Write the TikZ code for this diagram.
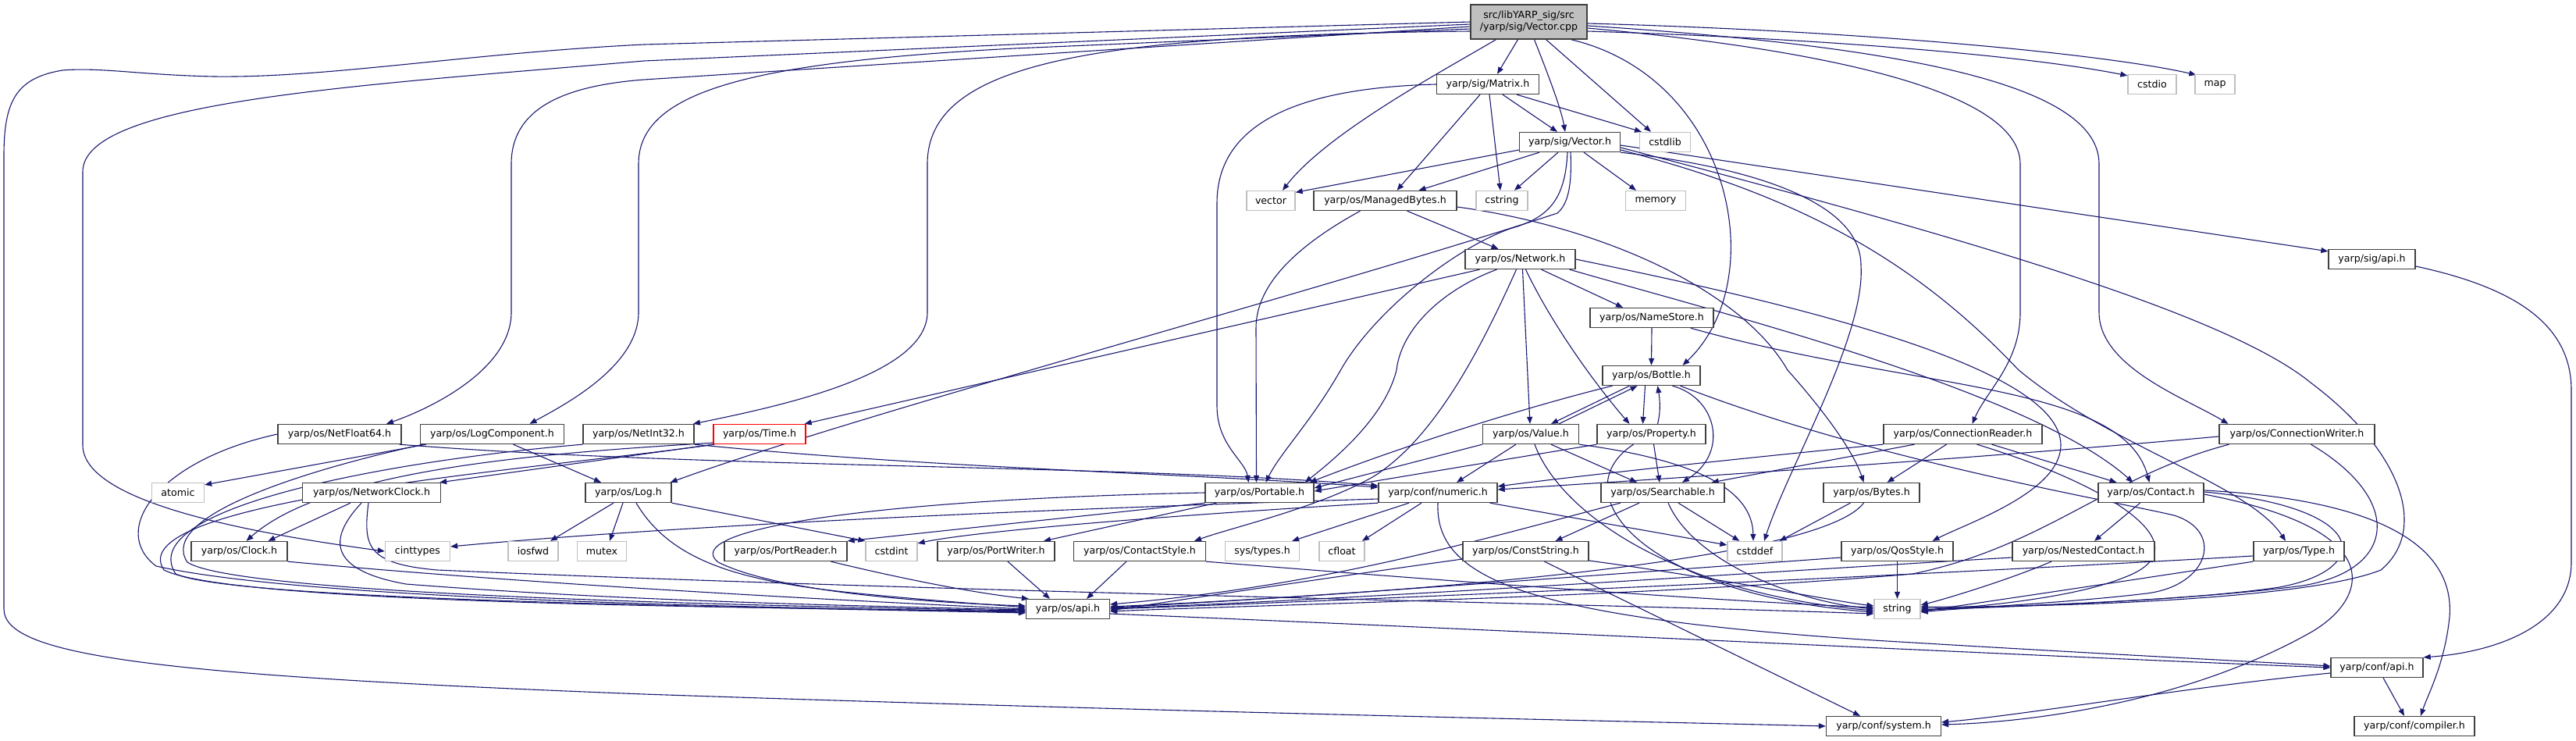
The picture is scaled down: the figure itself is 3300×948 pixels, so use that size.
\documentclass[tikz,border=0pt]{standalone}
\usepackage{fontspec}
\setmainfont{DejaVu Sans}
\usetikzlibrary{arrows.meta,calc}
\definecolor{mblue}{HTML}{191970}
\definecolor{gbox}{HTML}{BFBFBF}
\definecolor{dbox}{HTML}{404040}
\definecolor{rbox}{HTML}{FF0000}
\pgfdeclarelayer{bg}
\pgfsetlayers{bg,main}
\begin{document}
\begin{tikzpicture}[x=1pt,y=-1pt,
  nd/.style={draw=dbox,line width=1.3pt,fill=white,minimum height=25pt,inner xsep=1pt,inner ysep=0pt,font=\fontsize{12.6}{15}\selectfont},
  sys/.style={nd,draw=gbox},
  e/.style={draw=mblue,line width=1.1pt,-{Triangle[length=9pt,width=7pt]}}]
\useasboundingbox (0,0) rectangle (3300,948);
% ---------------- nodes ----------------
\node[nd,fill=gbox,minimum width=149pt,minimum height=44pt,align=center] (root) at (1958.5,28) {src/libYARP\_sig/src\\/yarp/sig/Vector.cpp};
\node[nd,minimum width=131pt] (matrix) at (1906,108) {yarp/sig/Matrix.h};
\node[sys,minimum width=62pt] (cstdio) at (2757,108) {cstdio};
\node[sys,minimum width=51pt] (map) at (2837.5,108) {map};
\node[nd,minimum width=129pt] (vech) at (2011,182) {yarp/sig/Vector.h};
\node[sys,minimum width=65pt] (cstdlib) at (2133,182) {cstdlib};
\node[sys,minimum width=62pt] (vector) at (1628,257) {vector};
\node[nd,minimum width=183pt] (mbytes) at (1774.5,257) {yarp/os/ManagedBytes.h};
\node[sys,minimum width=66pt] (cstring) at (1924,257) {cstring};
\node[sys,minimum width=77pt] (memory) at (2121,257) {memory};
\node[nd,minimum width=141pt] (network) at (1947.5,332) {yarp/os/Network.h};
\node[nd,minimum width=111pt] (sigapi) at (3038.5,332) {yarp/sig/api.h};
\node[nd,minimum width=158pt] (namestore) at (2116,407) {yarp/os/NameStore.h};
\node[nd,minimum width=125pt] (bottle) at (2115.5,481) {yarp/os/Bottle.h};
\node[nd,minimum width=158pt] (netfloat) at (435,556) {yarp/os/NetFloat64.h};
\node[nd,minimum width=184pt] (logcomp) at (630.5,556) {yarp/os/LogComponent.h};
\node[nd,minimum width=142pt] (netint) at (818,556) {yarp/os/NetInt32.h};
\node[nd,draw=rbox,minimum width=118pt] (time) at (973,556) {yarp/os/Time.h};
\node[nd,minimum width=123pt] (value) at (1961,556) {yarp/os/Value.h};
\node[nd,minimum width=139pt] (property) at (2115.5,556) {yarp/os/Property.h};
\node[nd,minimum width=203pt] (connreader) at (2514.5,556) {yarp/os/ConnectionReader.h};
\node[nd,minimum width=199pt] (connwriter) at (2942.5,556) {yarp/os/ConnectionWriter.h};
\node[sys,minimum width=67pt] (atomic) at (228,631) {atomic};
\node[nd,minimum width=177pt] (netclock) at (476,631) {yarp/os/NetworkClock.h};
\node[nd,minimum width=110pt] (log) at (805,631) {yarp/os/Log.h};
\node[nd,minimum width=139pt] (portable) at (1613.5,631) {yarp/os/Portable.h};
\node[nd,minimum width=152pt] (numeric) at (1842,631) {yarp/conf/numeric.h};
\node[nd,minimum width=158pt] (searchable) at (2130,631) {yarp/os/Searchable.h};
\node[nd,minimum width=123pt] (bytes) at (2397.5,631) {yarp/os/Bytes.h};
\node[nd,minimum width=135pt] (contact) at (2755.5,631) {yarp/os/Contact.h};
\node[nd,minimum width=123pt] (clock) at (306.5,706) {yarp/os/Clock.h};
\node[sys,minimum width=83pt] (cinttypes) at (535,706) {cinttypes};
\node[sys,minimum width=64pt] (iosfwd) at (683,706) {iosfwd};
\node[sys,minimum width=63pt] (mutex) at (771,706) {mutex};
\node[nd,minimum width=157pt] (portreader) at (1006.5,706) {yarp/os/PortReader.h};
\node[sys,minimum width=66pt] (cstdint) at (1142,706) {cstdint};
\node[nd,minimum width=150pt] (portwriter) at (1276,706) {yarp/os/PortWriter.h};
\node[nd,minimum width=169pt] (contactstyle) at (1460,706) {yarp/os/ContactStyle.h};
\node[sys,minimum width=95pt] (systypes) at (1617,706) {sys/types.h};
\node[sys,minimum width=58pt] (cfloat) at (1719,706) {cfloat};
\node[nd,minimum width=161pt] (conststring) at (1954.5,706) {yarp/os/ConstString.h};
\node[sys,minimum width=70pt] (cstddef) at (2248,706) {cstddef};
\node[nd,minimum width=143pt] (qosstyle) at (2430.5,706) {yarp/os/QosStyle.h};
\node[nd,minimum width=182pt] (nested) at (2669,706) {yarp/os/NestedContact.h};
\node[nd,minimum width=116pt] (type) at (2945,706) {yarp/os/Type.h};
\node[nd,minimum width=107pt] (osapi) at (1368,780) {yarp/os/api.h};
\node[sys,minimum width=59pt] (string) at (2430.5,780) {string};
\node[nd,minimum width=118pt] (confapi) at (3045,855) {yarp/conf/api.h};
\node[nd,minimum width=147pt] (system) at (2413,930) {yarp/conf/system.h};
\node[nd,minimum width=154pt] (compiler) at (3093,930) {yarp/conf/compiler.h};
% ---------------- edges ----------------
\begin{pgfonlayer}{bg}
% root
\draw[e] ($(root.south)+(-14,0)$) -- ($(matrix.north)+(12,0)$);
\draw[e] ($(root.south)+(7,0)$) .. controls (1985,100) and (2000,140) .. ($(vech.north)+(-6,0)$);
\draw[e] ($(root.south)+(22,0)$) -- ($(cstdlib.north)+(-18,0)$);
\draw[e] ($(root.south)+(-42,0)$) .. controls (1850,90) and (1700,170) .. ($(vector.north)+(15,0)$);
\draw[e] ($(root.south)+(54,0)$) .. controls (2220,100) and (2270,360) .. ($(bottle.north)+(40,0)$);
\draw[e] ($(root.east)+(0,12)$) .. controls (2350,50) and (2600,72) .. ($(cstdio.north west)+(0,2)$);
\draw[e] ($(root.east)+(0,2)$) .. controls (2400,40) and (2700,70) .. ($(map.north west)+(2,1)$);
\draw[e] ($(root.east)+(0,8)$) .. controls (2300,60) and (2588,110) .. (2588,210) -- (2588,400) .. controls (2588,465) and (2545,500) .. ($(connreader.north)+(12,0)$);
\draw[e] ($(root.east)+(0,5)$) .. controls (2450,60) and (2689,110) .. (2689,210) -- (2689,400) .. controls (2689,470) and (2800,510) .. ($(connwriter.north)+(-88,0)$);
\draw[e] ($(root.west)+(0,0)$) -- (825,57) .. controls (600,68) and (420,100) .. (274,98) .. controls (180,96) and (130,86) .. (80,90) .. controls (20,100) and (5,130) .. (5,200) -- (5,780) .. controls (5,840) and (200,865) .. (825,889) .. controls (1500,912) and (2100,924) .. (system.west);
\draw[e] ($(root.west)+(0,3)$) -- (825,78) .. controls (450,110) and (106,130) .. (106,220) -- (106,570) .. controls (106,640) and (300,680) .. (cinttypes.west);
\draw[e] ($(root.west)+(0,6)$) -- (825,102) .. controls (720,110) and (655,140) .. (655,210) -- (655,400) .. controls (655,470) and (560,520) .. ($(netfloat.north)+(60,0)$);
\draw[e] ($(root.west)+(0,9)$) -- (1300,62) .. controls (950,80) and (818,120) .. (818,210) -- (818,400) .. controls (818,470) and (720,520) .. ($(logcomp.north)+(48,0)$);
\draw[e] ($(root.west)+(0,12)$) .. controls (1400,45) and (1188,80) .. (1188,210) -- (1188,400) .. controls (1188,480) and (1000,520) .. ($(netint.north)+(70,0)$);
% Matrix
\draw[e] ($(matrix.south)+(19,0)$) -- ($(vech.north)+(-16,0)$);
\draw[e] ($(matrix.south)+(37,0)$) -- ($(cstdlib.north)+(-30,0)$);
\draw[e] ($(matrix.south)+(2,0)$) -- ($(cstring.north)+(-2,0)$);
\draw[e] ($(matrix.south)+(-10,0)$) -- ($(mbytes.north)+(15,0)$);
\draw[e] (matrix.west) .. controls (1680,112) and (1559,150) .. (1559,260) -- (1559,520) .. controls (1559,570) and (1595,590) .. ($(portable.north)+(-14,0)$);
% Vector.h
\draw[e] ($(vech.west)+(0,10)$) -- ($(vector.north east)+(0,2.5)$);
\draw[e] ($(vech.south)+(-39,0)$) -- ($(mbytes.north)+(43,0)$);
\draw[e] ($(vech.south)+(-15,0)$) -- ($(cstring.north)+(16,0)$);
\draw[e] ($(vech.south)+(18,0)$) -- ($(memory.north)+(-25,0)$);
\draw[e] ($(vech.south)+(-3,0)$) .. controls (2005,260) and (1980,280) .. (1934,293) .. controls (1860,320) and (1760,400) .. (1718,473) .. controls (1680,540) and (1640,580) .. ($(portable.north)+(8,0)$);
\draw[e] ($(vech.south)+(1,0)$) .. controls (2014,240) and (2008,262) .. (1995,273) .. controls (1700,370) and (1100,530) .. ($(log.north east)+(-2,0)$);
\draw[e] (vech.south east) .. controls (2250,215) and (2384,260) .. (2384,340) .. controls (2390,430) and (2290,600) .. ($(cstddef.north)+(12,0)$);
\draw[e] ($(vech.east)+(0,4)$) -- ($(sigapi.north west)+(0,3)$);
\draw[e] ($(vech.east)+(0,7)$) .. controls (2500,300) and (2850,400) .. (2960,490) .. controls (3080,580) and (3110,680) .. (3050,730) .. controls (2950,770) and (2600,778) .. ($(string.east)+(0,-3)$);
\draw[e] ($(vech.east)+(0,10)$) .. controls (2300,250) and (2450,330) .. (2585,473) .. controls (2700,570) and (2880,620) .. ($(type.north)+(-17,0)$);
% ManagedBytes
\draw[e] ($(mbytes.south)+(28,0)$) -- ($(network.north)+(-28,0)$);
\draw[e] ($(mbytes.south)+(-32,0)$) .. controls (1670,310) and (1609,360) .. (1609,420) -- ($(portable.north)+(-4,0)$);
\draw[e] ($(mbytes.east)+(0,8)$) .. controls (2050,290) and (2230,370) .. (2290,474) .. controls (2340,530) and (2375,580) .. ($(bytes.north)+(-10,0)$);
% Network
\draw[e] ($(network.south)+(27,0)$) -- ($(namestore.north)+(-37,0)$);
\draw[e] ($(network.south)+(-52,0)$) -- ($(time.north east)+(-2,0)$);
\draw[e] ($(network.south)+(-30,0)$) .. controls (1850,370) and (1795,420) .. (1789,474) .. controls (1775,530) and (1720,580) .. ($(portable.north east)+(-12,0)$);
\draw[e] ($(network.south)+(-5,0)$) .. controls (1900,440) and (1840,560) .. (1760,610) .. controls (1690,650) and (1580,675) .. ($(contactstyle.north)+(70,0)$);
\draw[e] ($(network.south)+(3,0)$) -- ($(value.north)+(-1,0)$);
\draw[e] ($(network.south)+(7,0)$) .. controls (1990,420) and (2050,500) .. ($(property.north)+(-28,0)$);
\draw[e] ($(network.south east)+(-8,0)$) .. controls (2200,400) and (2600,500) .. ($(contact.north)+(-23,0)$);
\draw[e] (network.east) .. controls (2300,390) and (2640,470) .. (2640,570) .. controls (2640,630) and (2520,670) .. ($(qosstyle.north)+(45,0)$);
% NameStore
\draw[e] (namestore.south) -- (bottle.north);
\draw[e] ($(namestore.south east)+(-30,0)$) .. controls (2450,500) and (2720,490) .. ($(contact.north)+(-2,0)$);
% Bottle
\draw[e] ($(bottle.south)+(-28,0)$) -- ($(value.north)+(26,0)$);
\draw[e] ($(value.north)+(36,0)$) -- ($(bottle.south)+(-18,0)$);
\draw[e] ($(bottle.south)+(-8,0)$) -- ($(property.north)+(-11,0)$);
\draw[e] ($(property.north)+(8,0)$) .. controls (2128,525) and (2126,510) .. ($(bottle.south)+(8,0)$);
\draw[e] ($(bottle.south)+(27,0)$) .. controls (2200,510) and (2215,580) .. ($(searchable.north)+(25,0)$);
\draw[e] ($(bottle.south)+(-50,0)$) .. controls (1960,520) and (1800,570) .. ($(portable.north east)+(-6,0)$);
\draw[e] ($(bottle.south)+(37,0)$) .. controls (2400,590) and (2700,640) .. (2785,660) .. controls (2850,680) and (2830,750) .. (2750,760) .. controls (2650,772) and (2520,778) .. ($(string.east)+(0,4)$);
% Value
\draw[e] ($(value.south)+(-19,0)$) -- ($(numeric.north)+(24,0)$);
\draw[e] ($(value.south)+(26,0)$) -- ($(searchable.north)+(-33,0)$);
\draw[e] (value.south west) -- ($(portable.east)+(0,-6)$);
\draw[e] (value.south east) .. controls (2180,590) and (2245,630) .. ($(cstddef.north)+(-2,0)$);
\draw[e] ($(value.south)+(5,0)$) .. controls (2000,660) and (2150,760) .. ($(string.west)+(0,2)$);
% Property
\draw[e] ($(property.south)+(3,0)$) -- ($(searchable.north)+(-4,0)$);
\draw[e] (property.south west) -- ($(portable.east)+(0,-2)$);
\draw[e] ($(property.south)+(-23,0)$) .. controls (2000,630) and (2100,760) .. ($(string.west)+(0,4)$);
% Searchable
\draw[e] ($(searchable.south)+(20,0)$) -- ($(cstddef.north west)+(16,0)$);
\draw[e] ($(searchable.south)+(7,0)$) .. controls (2170,720) and (2300,770) .. (string.west);
\draw[e] ($(searchable.south)+(-30,0)$) -- ($(conststring.north)+(38,0)$);
\draw[e] ($(searchable.south)+(-54,0)$) .. controls (1900,690) and (1700,750) .. ($(osapi.east)+(0,-6)$);
% Bytes
\draw[e] ($(bytes.south)+(-27,0)$) -- ($(cstddef.north east)+(-4,0)$);
\draw[e] ($(bytes.south)+(-10,0)$) .. controls (2330,720) and (1800,760) .. ($(osapi.east)+(0,-3)$);
% ConnectionReader
\draw[e] (connreader.south west) .. controls (2200,590) and (2000,612) .. ($(numeric.east)+(0,-8)$);
\draw[e] ($(connreader.south)+(-62,0)$) -- ($(searchable.north east)+(-17,0)$);
\draw[e] ($(connreader.south)+(-21,0)$) -- ($(bytes.north)+(20,0)$);
\draw[e] ($(connreader.south)+(37,0)$) -- ($(contact.north)+(-44,0)$);
\draw[e] ($(connreader.south)+(18,0)$) .. controls (2700,620) and (2830,700) .. (2720,740) .. controls (2650,768) and (2520,778) .. ($(string.east)+(0,2)$);
% ConnectionWriter
\draw[e] ($(connwriter.west)+(0,3)$) .. controls (2500,590) and (2100,615) .. ($(numeric.east)+(0,-4)$);
\draw[e] ($(connwriter.south)+(-87,0)$) .. controls (2700,610) and (2620,700) .. (2450,735) .. controls (2100,765) and (1600,775) .. ($(osapi.east)+(0,3)$);
\draw[e] ($(connwriter.south)+(18,0)$) .. controls (3080,640) and (3070,730) .. (2950,750) .. controls (2800,770) and (2550,778) .. ($(string.east)+(0,-1)$);
% Contact
\draw[e] ($(contact.south)+(-14,0)$) -- ($(nested.north)+(14,0)$);
\draw[e] ($(contact.east)+(0,-3)$) .. controls (3050,640) and (3145,700) .. (3138,790) .. controls (3132,850) and (3110,890) .. ($(compiler.north)+(8,0)$);
\draw[e] ($(contact.east)+(0,2)$) .. controls (3070,680) and (3030,770) .. (2960,810) .. controls (2800,900) and (2600,925) .. ($(system.east)+(0,-2)$);
\draw[e] ($(contact.east)+(0,-1)$) .. controls (3040,650) and (3040,730) .. (2920,752) .. controls (2800,770) and (2550,778) .. ($(string.east)+(0,1)$);
% row 9
\draw[e] ($(nested.west)+(0,8)$) .. controls (2300,730) and (1700,770) .. ($(osapi.east)+(0,-1)$);
\draw[e] ($(nested.south)+(-41,0)$) .. controls (2580,740) and (2500,765) .. ($(string.east)+(0,-5)$);
\draw[e] ($(type.west)+(0,6)$) .. controls (2400,740) and (1700,770) .. (osapi.east);
\draw[e] (type.south west) .. controls (2750,740) and (2550,770) .. ($(string.east)+(0,3)$);
\draw[e] (qosstyle.south) -- (string.north);
\draw[e] ($(qosstyle.west)+(0,8)$) .. controls (2000,740) and (1600,770) .. ($(osapi.east)+(0,-2)$);
\draw[e] ($(conststring.west)+(0,10)$) .. controls (1700,740) and (1500,770) .. ($(osapi.east)+(0,2)$);
\draw[e] ($(conststring.east)+(0,12)$) .. controls (2200,740) and (2350,770) .. ($(string.west)+(0,-4)$);
\draw[e] ($(conststring.south)+(24,0)$) -- ($(system.north)+(-30,0)$);
\draw[e] ($(contactstyle.south)+(-17,0)$) -- ($(osapi.north)+(24,0)$);
\draw[e] (contactstyle.south east) .. controls (1800,740) and (2200,770) .. ($(string.west)+(0,-2)$);
\draw[e] ($(portwriter.south)+(15,0)$) -- ($(osapi.north)+(-23,0)$);
\draw[e] ($(portreader.south)+(58,0)$) .. controls (1150,740) and (1250,760) .. ($(osapi.north west)+(4,0)$);
\draw[e] (clock.south east) .. controls (700,750) and (1100,770) .. (osapi.west);
% numeric
\draw[e] ($(numeric.west)+(0,8)$) .. controls (1400,650) and (900,670) .. ($(cinttypes.east)+(0,-6)$);
\draw[e] (numeric.south west) .. controls (1500,660) and (1250,680) .. ($(cstdint.north east)+(0,3)$);
\draw[e] ($(numeric.south)+(-37,0)$) -- ($(systypes.north east)+(-10,0)$);
\draw[e] ($(numeric.south)+(-21,0)$) -- ($(cfloat.north)+(26,0)$);
\draw[e] ($(numeric.south east)+(-10,0)$) -- ($(cstddef.west)+(0,-8)$);
\draw[e] (numeric.south) .. controls (1838,740) and (1950,790) .. (2400,820) .. controls (2700,838) and (2900,848) .. ($(confapi.west)+(0,-2)$);
% api headers
\draw[e] ($(osapi.east)+(0,6)$) .. controls (2000,810) and (2600,840) .. (confapi.west);
\draw[e] ($(sigapi.east)+(0,9)$) .. controls (3230,370) and (3294,420) .. (3294,500) -- (3294,720) .. controls (3294,800) and (3200,835) .. (confapi.north east);
\draw[e] ($(confapi.south)+(8,0)$) -- ($(compiler.north)+(-13,0)$);
\draw[e] ($(confapi.west)+(0,7)$) .. controls (2800,880) and (2600,915) .. ($(system.east)+(0,-5)$);
% Log
\draw[e] ($(log.south)+(-19,0)$) -- ($(iosfwd.north)+(22,0)$);
\draw[e] ($(log.south)+(-7,0)$) -- ($(mutex.north)+(10,0)$);
\draw[e] (log.south east) -- (cstdint.north west);
\draw[e] ($(log.south)+(10,0)$) .. controls (860,720) and (950,745) .. (1100,760) .. controls (1200,770) and (1280,775) .. ($(osapi.west)+(0,-2)$);
% LogComponent
\draw[e] ($(logcomp.south)+(27,0)$) -- ($(log.north)+(-35,0)$);
\draw[e] ($(logcomp.south west)+(8,0)$) -- ($(atomic.north east)+(0,3)$);
\draw[e] ($(logcomp.south west)+(4,0)$) .. controls (400,600) and (200,660) .. (240,720) .. controls (300,760) and (900,775) .. ($(osapi.west)+(0,2)$);
% NetFloat64
\draw[e] (netfloat.west) .. controls (200,590) and (140,680) .. (200,725) .. controls (400,770) and (1000,778) .. ($(osapi.west)+(0,4)$);
\draw[e] ($(netfloat.south east)+(-3,0)$) .. controls (900,600) and (1450,595) .. ($(numeric.west)+(0,-9)$);
% NetInt32
\draw[e] (netint.south west) .. controls (500,590) and (170,650) .. (225,735) .. controls (300,770) and (1000,778) .. ($(osapi.west)+(0,5)$);
\draw[e] (netint.south east) .. controls (1200,600) and (1500,605) .. ($(numeric.west)+(0,-7)$);
% Time
\draw[e] (time.south west) -- ($(netclock.north east)+(-2,0)$);
\draw[e] ($(time.south west)+(0,-2)$) .. controls (700,580) and (420,600) .. ($(clock.north)+(9,0)$);
\draw[e] ($(time.south west)+(2,0)$) .. controls (700,600) and (150,640) .. (210,730) .. controls (300,775) and (1000,778) .. ($(osapi.west)+(0,3)$);
% NetworkClock
\draw[e] ($(netclock.south)+(-27,0)$) -- ($(clock.north)+(37,0)$);
\draw[e] ($(netclock.south)+(-13,0)$) .. controls (420,690) and (420,730) .. (520,748) .. controls (800,770) and (1100,776) .. ($(osapi.west)+(0,1)$);
\draw[e] ($(netclock.south)+(-4,0)$) .. controls (465,700) and (470,722) .. (560,730) .. controls (1200,758) and (2000,772) .. ($(string.west)+(0,6)$);
% Portable
\draw[e] (portable.south west) -- (portreader.north east);
\draw[e] ($(portable.south west)+(15,0)$) -- ($(portwriter.north)+(61,0)$);
\draw[e] (portable.west) .. controls (1100,640) and (870,680) .. (920,720) .. controls (1000,760) and (1200,772) .. ($(osapi.west)+(0,-4)$);
\end{pgfonlayer}
\end{tikzpicture}
\end{document}
